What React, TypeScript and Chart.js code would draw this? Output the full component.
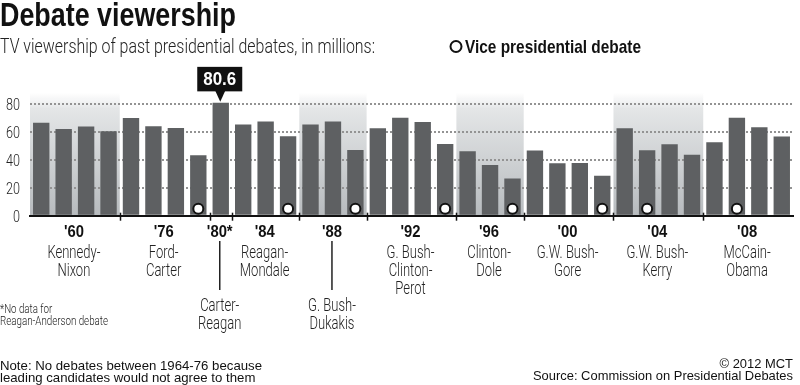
import { useEffect, useRef } from "react";
import { Chart, registerables } from "chart.js";
Chart.register(...registerables);

// ---- data ----
const groupYears = ["'60", "'76", "'80*", "'84", "'88", "'92", "'96", "'00", "'04", "'08"];
const groupNames = [
  ["Kennedy-", "Nixon"],
  ["Ford-", "Carter"],
  ["Carter-", "Reagan"],
  ["Reagan-", "Mondale"],
  ["G. Bush-", "Dukakis"],
  ["G. Bush-", "Clinton-", "Perot"],
  ["Clinton-", "Dole"],
  ["G.W. Bush-", "Gore"],
  ["G.W. Bush-", "Kerry"],
  ["McCain-", "Obama"],
];
const groupSizes = [4, 4, 1, 3, 3, 4, 3, 4, 4, 4];
const groupShaded = [true, false, false, false, true, false, true, false, true, false];
const groupLeader = [false, false, true, false, true, false, false, false, false, false];
const viewers = [
  66.4, 61.9, 63.7, 60.4,
  69.7, 63.9, 62.7, 43.2,
  80.6,
  65.1, 67.3, 56.7,
  65.1, 67.3, 46.9,
  62.4, 69.9, 66.9, 51.2,
  46.1, 36.3, 26.6,
  46.6, 37.5, 37.7, 28.5,
  62.5, 46.7, 51.1, 43.5,
  52.4, 69.9, 63.2, 56.5,
];
const vicePresidential = [
  0, 0, 0, 0,
  0, 0, 0, 1,
  0,
  0, 0, 1,
  0, 0, 1,
  0, 0, 0, 1,
  0, 0, 1,
  0, 0, 0, 1,
  0, 1, 0, 0,
  0, 1, 0, 0,
];
const yTicks = [0, 20, 40, 60, 80];
const highlightIndex = 8;
const highlightLabel = "80.6";

const MARKER_VALUE = 5;
const groupStarts: number[] = [];
{
  let s = 0;
  groupSizes.forEach((n) => {
    groupStarts.push(s);
    s += n;
  });
}
const categories: string[] = [];
groupSizes.forEach((n, g) => {
  for (let k = 0; k < n; k++) categories.push(`${groupYears[g]} #${k + 1}`);
});

function drawText(
  ctx: CanvasRenderingContext2D,
  s: string,
  x: number,
  y: number,
  font: string,
  align: CanvasTextAlign,
  color: string,
  opts: { fit?: number; sx?: number; baseline?: CanvasTextBaseline } = {}
) {
  ctx.save();
  ctx.font = font;
  ctx.fillStyle = color;
  ctx.textBaseline = opts.baseline || "alphabetic";
  ctx.textAlign = align;
  const w = ctx.measureText(s).width;
  const sc = opts.fit ? opts.fit / w : opts.sx ?? 1;
  ctx.translate(x, y);
  ctx.scale(sc, 1);
  ctx.fillText(s, 0, 0);
  ctx.restore();
}

function scaleFor(ctx: CanvasRenderingContext2D, font: string, ref: string, width: number) {
  ctx.save();
  ctx.font = font;
  const w = ctx.measureText(ref).width;
  ctx.restore();
  return width / w;
}

const decor = {
  id: "decor",
  beforeDraw(chart: any) {
    const { ctx, chartArea: a } = chart;
    const xs = chart.scales.x;
    const cw = xs.getPixelForValue(1) - xs.getPixelForValue(0);
    groupSizes.forEach((n, g) => {
      if (!groupShaded[g]) return;
      const s = groupStarts[g];
      const x0 = Math.max(a.left - 1, xs.getPixelForValue(s) - cw / 2);
      const x1 = xs.getPixelForValue(s + n - 1) + cw / 2;
      const grd = ctx.createLinearGradient(0, a.top, 0, a.bottom);
      grd.addColorStop(0, "rgba(235,237,238,0)");
      grd.addColorStop(0.13, "#e4e6e7");
      grd.addColorStop(1, "#b7bbbe");
      ctx.fillStyle = grd;
      ctx.fillRect(x0, a.top, x1 - x0, a.bottom - a.top);
    });
  },
  afterDraw(chart: any) {
    const { ctx, chartArea: a } = chart;
    const xs = chart.scales.x;
    const ys = chart.scales.y;
    const cw = xs.getPixelForValue(1) - xs.getPixelForValue(0);

    // title & subtitle
    drawText(ctx, "Debate viewership", 0, 26, "bold 34px 'Liberation Sans'", "left", "#111", { fit: 236 });
    drawText(ctx, "TV viewership of past presidential debates, in millions:", 0, 52.5, "300 20px Roboto", "left", "#222", { fit: 375 });

    // legend
    ctx.save();
    ctx.beginPath();
    ctx.arc(456, 46.5, 5.5, 0, Math.PI * 2);
    ctx.fillStyle = "#fff";
    ctx.fill();
    ctx.lineWidth = 2;
    ctx.strokeStyle = "#111";
    ctx.stroke();
    ctx.restore();
    drawText(ctx, "Vice presidential debate", 465, 53, "bold 19px 'Liberation Sans'", "left", "#111", { fit: 176 });

    // y tick labels
    const yFont = "300 17px Roboto";
    const ySc = scaleFor(ctx, yFont, "80", 14);
    yTicks.forEach((v) => {
      drawText(ctx, String(v), 20, ys.getPixelForValue(v) + 2.5, yFont, "right", "#222", { sx: ySc, baseline: "middle" });
    });

    // group separators
    ctx.save();
    ctx.strokeStyle = "#111";
    ctx.lineWidth = 1.5;
    groupStarts.forEach((s, g) => {
      if (g === 0) return;
      const x = Math.round(xs.getPixelForValue(s) - cw / 2) + 0.5;
      ctx.beginPath();
      ctx.moveTo(x, a.bottom - 3);
      ctx.lineTo(x, a.bottom + 5);
      ctx.stroke();
    });
    ctx.restore();

    // group labels
    const yearFont = "bold 17px 'Liberation Sans'";
    const yearSc = scaleFor(ctx, yearFont, "'60", 20);
    const nameFont = "300 17.5px Roboto";
    const nameSc = scaleFor(ctx, nameFont, "Kennedy-", 53);
    groupSizes.forEach((n, g) => {
      const s = groupStarts[g];
      const cx = (xs.getPixelForValue(s) + xs.getPixelForValue(s + n - 1)) / 2;
      drawText(ctx, groupYears[g], cx - 1, 237, yearFont, "center", "#111", { sx: yearSc });
      let base = 257.5;
      if (groupLeader[g]) {
        ctx.save();
        ctx.strokeStyle = "#222";
        ctx.lineWidth = 1.5;
        ctx.beginPath();
        ctx.moveTo(cx - 1, 241);
        ctx.lineTo(cx - 1, 290);
        ctx.stroke();
        ctx.restore();
        base = 310.5;
      }
      groupNames[g].forEach((t, k) => {
        drawText(ctx, t, cx - 1, base + k * 18.3, nameFont, "center", "#222", { sx: nameSc });
      });
    });

    // highlight callout
    const hx = xs.getPixelForValue(highlightIndex);
    const hy = ys.getPixelForValue(viewers[highlightIndex]);
    ctx.save();
    ctx.fillStyle = "#111";
    ctx.fillRect(hx - 23.5, hy - 36, 45, 24.5);
    ctx.beginPath();
    ctx.moveTo(hx - 5.5, hy - 12);
    ctx.lineTo(hx + 4.5, hy - 12);
    ctx.lineTo(hx - 0.5, hy - 1);
    ctx.closePath();
    ctx.fill();
    ctx.restore();
    drawText(ctx, highlightLabel, hx - 1, hy - 17.5, "bold 19px 'Liberation Sans'", "center", "#fff", { fit: 33 });

    // footnote
    const fnFont = "300 12px Roboto";
    const fnSc = scaleFor(ctx, fnFont, "Reagan-Anderson debate", 108);
    drawText(ctx, "*No data for", 0, 312.5, fnFont, "left", "#222", { sx: fnSc });
    drawText(ctx, "Reagan-Anderson debate", 0, 325, fnFont, "left", "#222", { sx: fnSc });

    // notes
    const noteFont = "13px 'Liberation Sans'";
    const noteSc = scaleFor(ctx, noteFont, "Note: No debates between 1964-76 because", 262);
    drawText(ctx, "Note: No debates between 1964-76 because", 0, 369.5, noteFont, "left", "#111", { sx: noteSc });
    drawText(ctx, "leading candidates would not agree to them", 0, 382, noteFont, "left", "#111", { sx: noteSc });
    const srcSc = scaleFor(ctx, noteFont, "Source: Commission on Presidential Debates", 260);
    drawText(ctx, "© 2012 MCT", 793, 367.5, noteFont, "right", "#111", { sx: srcSc });
    drawText(ctx, "Source: Commission on Presidential Debates", 793, 380, noteFont, "right", "#111", { sx: srcSc });
  },
};

export default function App() {
  const ref = useRef<HTMLCanvasElement>(null);
  useEffect(() => {
    const canvas = ref.current!;
    const chart = new Chart(canvas, {
      type: "bar",
      data: {
        labels: categories,
        datasets: [
          {
            type: "line",
            label: "Vice presidential debate",
            data: vicePresidential.map((f) => (f ? MARKER_VALUE : null)),
            showLine: false,
            pointRadius: 5,
            pointHoverRadius: 5,
            pointBackgroundColor: "#ffffff",
            pointBorderColor: "#111111",
            pointBorderWidth: 2,
            order: 0,
          } as any,
          {
            type: "bar",
            label: "Viewers (millions)",
            data: viewers,
            backgroundColor: "#5e6062",
            barPercentage: 0.73,
            categoryPercentage: 1,
            order: 1,
          },
        ],
      },
      options: {
        responsive: false,
        animation: false,
        layout: { padding: { left: 0, right: 0.5, top: 92.5, bottom: 169.3 } },
        plugins: { legend: { display: false }, tooltip: { enabled: false } },
        scales: {
          x: {
            grid: { display: false },
            ticks: { display: false },
            border: { display: true, color: "#111", width: 2, z: 1 },
            afterFit: (s: any) => {
              s.height = 0;
            },
          },
          y: {
            min: 0,
            max: 88,
            grid: {
              drawTicks: false,
              lineWidth: 2,
              color: (c: any) => (c.tick && c.tick.value === 0 ? "rgba(0,0,0,0)" : "#939393"),
            },
            border: { display: false, dash: [2, 2] },
            ticks: { display: false },
            afterBuildTicks: (s: any) => {
              s.ticks = yTicks.map((v) => ({ value: v }));
            },
            afterFit: (s: any) => {
              s.width = 30;
            },
          },
        },
      },
      plugins: [decor],
    });
    return () => chart.destroy();
  }, []);
  return (
    <div style={{ position: "fixed", left: 0, top: 0, width: 800, height: 385, background: "#fff" }}>
      <canvas ref={ref} width={800} height={385} style={{ display: "block", width: 800, height: 385 }} />
    </div>
  );
}
